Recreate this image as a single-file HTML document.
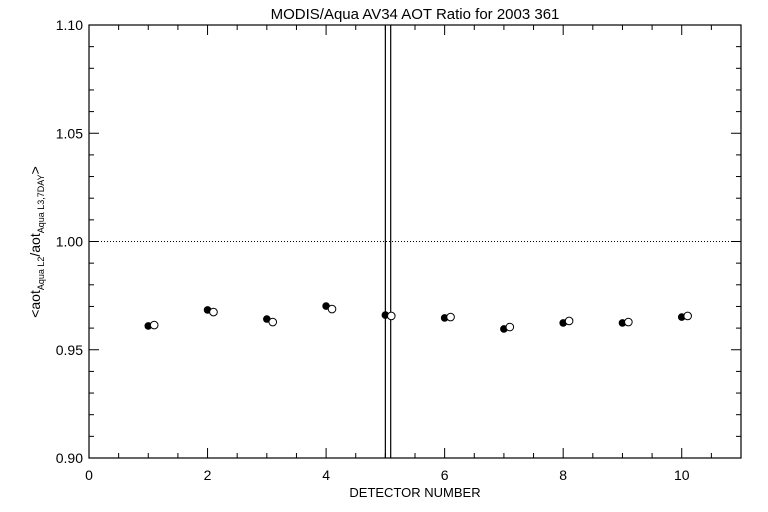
<!DOCTYPE html>
<html><head><meta charset="utf-8"><style>
body{margin:0;background:#fff;}
svg{display:block;font-family:"Liberation Sans",sans-serif;}
</style></head><body>
<svg id="c" width="768" height="512">
<rect width="768" height="512" fill="#fff"/>
<text x="415" y="19" text-anchor="middle" font-size="15">MODIS/Aqua AV34 AOT Ratio for 2003 361</text>
<text x="415" y="497" text-anchor="middle" font-size="13">DETECTOR NUMBER</text>
<text transform="translate(40,242) rotate(-90)" text-anchor="middle" font-size="14">&lt;aot<tspan font-size="9" dy="4">Aqua L2</tspan><tspan dy="-4">/aot</tspan><tspan font-size="9" dy="4">Aqua L3,7DAY</tspan><tspan dy="-4">&gt;</tspan></text>
<g id="g"></g>
</svg>
<script>
const detectors=[1,2,3,4,5,6,7,8,9,10];
const filledRatio=[0.961,0.9684,0.9642,0.9702,0.966,0.9647,0.9596,0.9624,0.9624,0.9651];
const openRatio=[0.9614,0.9674,0.9628,0.9688,0.9656,0.9651,0.9605,0.9633,0.9628,0.9656];
const xTicks=[0,2,4,6,8,10];
const yTicks=[0.90,0.95,1.00,1.05,1.10];
const refLines=[5.0,5.09];
const L=89,R=741,T=25,B=458,xmin=0,xmax=11,ymin=0.9,ymax=1.1;
const X=v=>L+(v-xmin)/(xmax-xmin)*(R-L);
const Y=v=>B-(v-ymin)/(ymax-ymin)*(B-T);
const g=document.getElementById('g');const NS='http://www.w3.org/2000/svg';
function mk(t,a){const e=document.createElementNS(NS,t);for(const k in a)e.setAttribute(k,a[k]);g.appendChild(e);return e;}
let e=mk('rect',{x:L,y:T,width:R-L,height:B-T,fill:'none',stroke:'#000','stroke-width':1.2});


for(let v=0;v<=11.001;v+=0.5){const M=Math.abs(v-Math.round(v/2)*2)<1e-6;const len=M?10:5;
mk('line',{x1:X(v),x2:X(v),y1:B,y2:B-len,stroke:'#000'});mk('line',{x1:X(v),x2:X(v),y1:T,y2:T+len,stroke:'#000'});}
for(let i=0;i<=20;i++){const v=0.9+i*0.01;const len=i%5==0?10:5;
mk('line',{x1:L,x2:L+len,y1:Y(v),y2:Y(v),stroke:'#000'});mk('line',{x1:R,x2:R-len,y1:Y(v),y2:Y(v),stroke:'#000'});}
xTicks.forEach(v=>{const t=mk('text',{x:X(v),y:B+22,'text-anchor':'middle','font-size':14});t.textContent=v;

});
yTicks.forEach(v=>{const t=mk('text',{x:L-6,y:Y(v)+5,'text-anchor':'end','font-size':14});t.textContent=v.toFixed(2);

});
e=mk('line',{x1:L,x2:R,y1:Y(1),y2:Y(1),stroke:'#000','stroke-dasharray':'1,2'});


refLines.forEach(v=>{const l=mk('line',{x1:X(v),x2:X(v),y1:T,y2:B,stroke:'#000','stroke-width':1.2});

});
detectors.forEach((d,i)=>{
const a=mk('circle',{cx:X(d),cy:Y(filledRatio[i]),r:3.8,fill:'#000'});


const b=mk('circle',{cx:X(d+0.1),cy:Y(openRatio[i]),r:3.8,fill:'#fff',stroke:'#000'});

});
</script>
</body></html>
